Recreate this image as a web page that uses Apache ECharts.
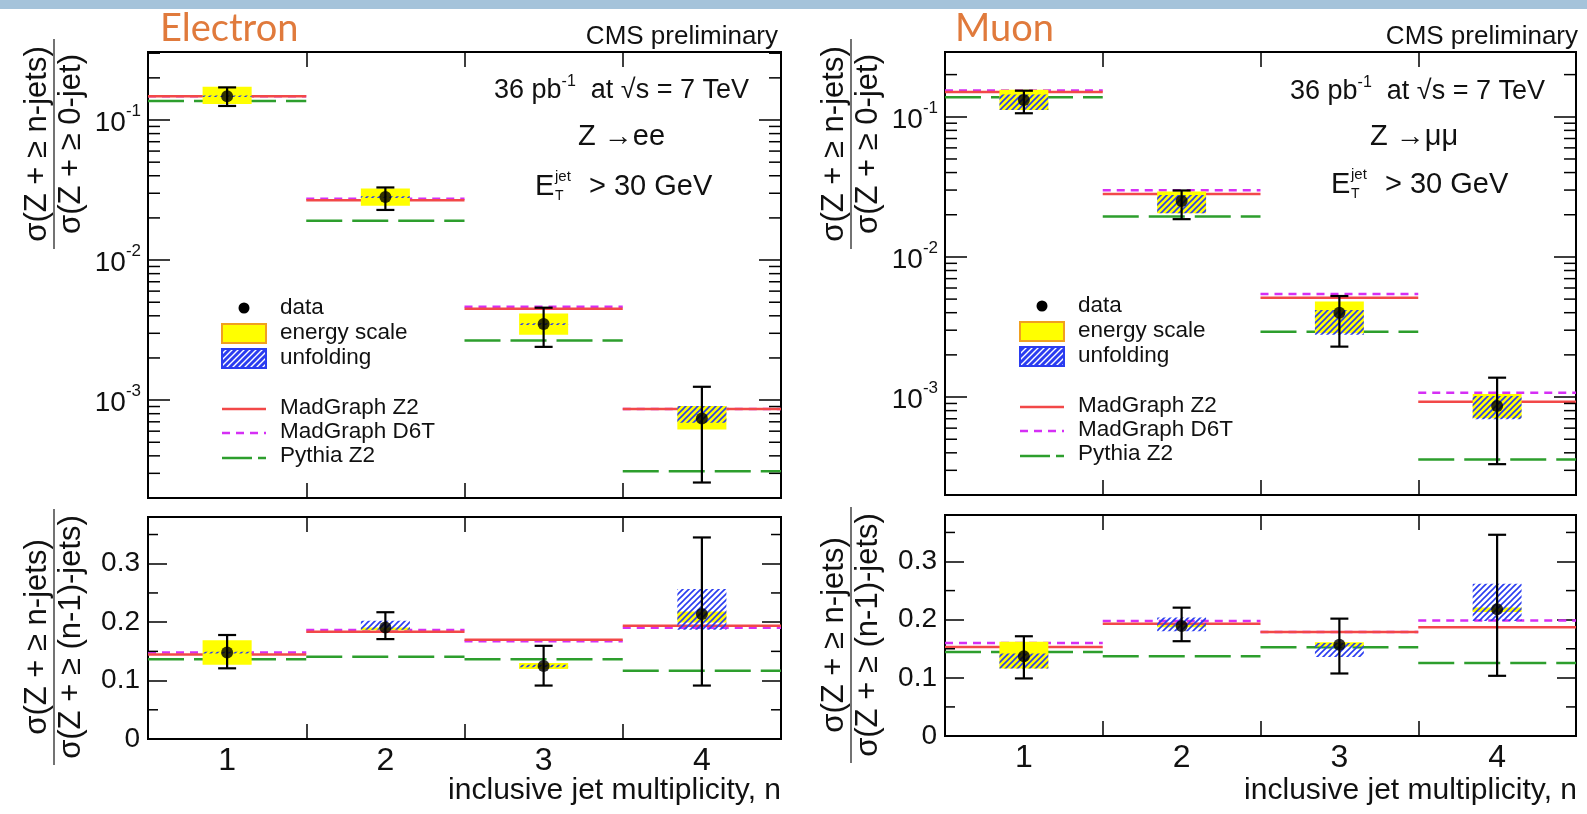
<!DOCTYPE html>
<html>
<head>
<meta charset="utf-8">
<script src="https://cdn.jsdelivr.net/npm/echarts@6/dist/echarts.min.js"></script>
<style>
  html, body { margin: 0; padding: 0; background: #fff; }
  #chart { width: 1587px; height: 814px; }
</style>
</head>
<body>
<div id="chart"></div>
<script>
// bins: inclusive jet multiplicity
const cats = ['1', '2', '3', '4'];

// electron, sigma(>=n) / sigma(>=0)
const elData = [0.148, 0.0282, 0.00349, 7.4e-4];
const elErrLo = [0.126, 0.0228, 0.0024, 2.58e-4];
const elErrHi = [0.171, 0.033, 0.00457, 1.245e-3];
const elEsLo = [0.130, 0.0244, 0.00293, 6.17e-4];
const elEsHi = [0.173, 0.0325, 0.00416, 9.06e-4];
const elUnfLo = [0.1462, 0.0278, 0.00344, 6.9e-4];
const elUnfHi = [0.1498, 0.0286, 0.00354, 9.06e-4];
const elZ2 = [0.148, 0.0267, 0.00449, 8.63e-4];
const elD6T = [0.148, 0.0274, 0.00465, 8.63e-4];
const elPythia = [0.137, 0.0191, 0.00267, 3.11e-4];

// electron, sigma(>=n) / sigma(>=n-1)
const elRatio = [0.148, 0.191, 0.125, 0.214];
const elRatioErrLo = [0.121, 0.171, 0.0915, 0.0915];
const elRatioErrHi = [0.178, 0.217, 0.1595, 0.345];
const elRatioEsLo = [0.127, 0.186, 0.120, 0.1995];
const elRatioEsHi = [0.169, 0.191, 0.130, 0.2184];
const elRatioUnfLo = [0.1465, 0.187, 0.123, 0.187];
const elRatioUnfHi = [0.1495, 0.2024, 0.127, 0.2567];
const elRatioZ2 = [0.1446, 0.1835, 0.170, 0.1938];
const elRatioD6T = [0.148, 0.1864, 0.1675, 0.1904];
const elRatioPythia = [0.1367, 0.141, 0.1367, 0.117];

// muon, sigma(>=n) / sigma(>=0)
const muData = [0.132, 0.0251, 0.0040, 8.63e-4];
const muErrLo = [0.106, 0.0186, 0.00229, 3.32e-4];
const muErrHi = [0.1535, 0.0298, 0.00526, 1.375e-3];
const muEsLo = [0.112, 0.0205, 0.00285, 7.05e-4];
const muEsHi = [0.156, 0.0293, 0.0048, 1.05e-3];
const muUnfLo = [0.112, 0.0205, 0.00278, 6.93e-4];
const muUnfHi = [0.144, 0.0277, 0.00418, 1.016e-3];
const muZ2 = [0.150, 0.0281, 0.00512, 9.25e-4];
const muD6T = [0.154, 0.0299, 0.00544, 1.074e-3];
const muPythia = [0.138, 0.0194, 0.00293, 3.59e-4];

// muon, sigma(>=n) / sigma(>=n-1)
const muRatio = [0.137, 0.189, 0.157, 0.218];
const muRatioErrLo = [0.099, 0.163, 0.1075, 0.1035];
const muRatioErrHi = [0.1715, 0.2207, 0.2018, 0.346];
const muRatioEsLo = [0.116, 0.187, 0.154, 0.213];
const muRatioEsHi = [0.162, 0.191, 0.161, 0.221];
const muRatioUnfLo = [0.116, 0.180, 0.136, 0.1978];
const muRatioUnfHi = [0.142, 0.2036, 0.160, 0.262];
const muRatioZ2 = [0.153, 0.193, 0.179, 0.187];
const muRatioD6T = [0.160, 0.1978, 0.179, 0.1984];
const muRatioPythia = [0.1446, 0.137, 0.1527, 0.1257];

// tick labels of the ratio axes
const ratioTicks = [0, 0.1, 0.2, 0.3];
const ratioMinorTicks = [0.05, 0.15, 0.25, 0.35];

const FONT = '"Liberation Sans", Arial, Helvetica, sans-serif';
const RED = '#f24848', MAG = '#d52ff5', GRN = '#2d9e2d', YEL = '#ffff00', BLUE = '#2a3cf0';

// hatch fill (/// lines)
function hatch(bg, fg, step, lw) {
    const c = document.createElement('canvas');
    c.width = step; c.height = step;
    const g = c.getContext('2d');
    if (bg) { g.fillStyle = bg; g.fillRect(0, 0, step, step); }
    g.strokeStyle = fg; g.lineWidth = lw;
    g.beginPath();
    g.moveTo(0, step); g.lineTo(step, 0);
    g.moveTo(-step, step); g.lineTo(step, -step);
    g.moveTo(0, 2 * step); g.lineTo(2 * step, 0);
    g.stroke();
    return c;
}
const hatchPlot = { image: hatch(null, BLUE, 6, 1.6), repeat: 'repeat' };
const hatchLegend = { image: hatch(BLUE, '#ffffff', 6, 1.4), repeat: 'repeat' };

function bandWidth(api, v) {
    return api.coord([1, v])[0] - api.coord([0, v])[0];
}

// model prediction: horizontal segment over the whole bin
function binLine(color, dash, width) {
    return function (params, api) {
        const v = api.value(1);
        const c = api.coord([api.value(0), v]);
        const bw = bandWidth(api, v);
        return {
            type: 'line',
            shape: { x1: c[0] - bw / 2, y1: c[1], x2: c[0] + bw / 2, y2: c[1] },
            style: { stroke: color, lineWidth: width, lineDash: dash }
        };
    };
}

// uncertainty box
function binBox(fill, half) {
    return function (params, api) {
        const x = api.value(0);
        const lo = api.coord([x, api.value(1)]);
        const hi = api.coord([x, api.value(2)]);
        const bw = bandWidth(api, api.value(1));
        return {
            type: 'rect',
            shape: { x: lo[0] - bw * half, y: hi[1], width: bw * half * 2, height: lo[1] - hi[1] },
            style: { fill: fill }
        };
    };
}

function errorBar(params, api) {
    const x = api.value(0);
    const lo = api.coord([x, api.value(1)]);
    const hi = api.coord([x, api.value(2)]);
    const st = { stroke: '#000', lineWidth: 2.2 };
    return {
        type: 'group',
        children: [
            { type: 'line', shape: { x1: lo[0], y1: lo[1], x2: hi[0], y2: hi[1] }, style: st },
            { type: 'line', shape: { x1: lo[0] - 9, y1: lo[1], x2: lo[0] + 9, y2: lo[1] }, style: st },
            { type: 'line', shape: { x1: hi[0] - 9, y1: hi[1], x2: hi[0] + 9, y2: hi[1] }, style: st }
        ]
    };
}

// minor ticks on both vertical frame edges
function minorTick(len) {
    return function (params, api) {
        const v = api.value(1);
        const c0 = api.coord([0, v]);
        const c3 = api.coord([3, v]);
        const bw = bandWidth(api, v);
        const xl = c0[0] - bw / 2, xr = c3[0] + bw / 2;
        const st = { stroke: '#000', lineWidth: 1.5 };
        return {
            type: 'group',
            children: [
                { type: 'line', shape: { x1: xl, y1: c0[1], x2: xl + len, y2: c0[1] }, style: st },
                { type: 'line', shape: { x1: xr, y1: c0[1], x2: xr - len, y2: c0[1] }, style: st }
            ]
        };
    };
}

const logMinor = [];
[-4, -3, -2, -1].forEach(function (d) {
    for (let m = 2; m <= 9; m++) logMinor.push(m * Math.pow(10, d));
});

const pts = arr => arr.map((v, i) => [i, v]);
const rng = (lo, hi) => lo.map((v, i) => [i, v, hi[i]]);

function panelSeries(g, p, minor, minorLen) {
    const ax = { xAxisIndex: 2 * g, yAxisIndex: 2 * g };
    return [
        Object.assign({ type: 'custom', z: 2, renderItem: binLine(MAG, [8, 6], 2.5), data: pts(p.d6t) }, ax),
        Object.assign({ type: 'custom', z: 2, renderItem: binLine(RED, null, 2.5), data: pts(p.z2) }, ax),
        Object.assign({ type: 'custom', z: 2, renderItem: binLine(GRN, [36, 10], 2.5), data: pts(p.py) }, ax),
        Object.assign({ type: 'custom', z: 3, renderItem: binBox(YEL, 0.155), data: rng(p.esLo, p.esHi) }, ax),
        Object.assign({ type: 'custom', z: 4, renderItem: binBox(hatchPlot, 0.155), data: rng(p.unfLo, p.unfHi) }, ax),
        Object.assign({ type: 'custom', z: 5, renderItem: errorBar, data: rng(p.errLo, p.errHi) }, ax),
        Object.assign({ type: 'scatter', z: 6, symbol: 'circle', symbolSize: 12, itemStyle: { color: '#000' }, data: pts(p.data) }, ax),
        Object.assign({ type: 'custom', z: 7, renderItem: minorTick(minorLen), data: minor.map(v => [0, v]) }, ax)
    ];
}

const grids = [
    { left: 148, top: 52, width: 633, height: 446 },
    { left: 148, top: 517, width: 633, height: 222 },
    { left: 945, top: 52, width: 631, height: 443 },
    { left: 945, top: 515, width: 631, height: 221 }
];

function xAx(g, top, labels) {
    return {
        type: 'category', gridIndex: g, data: cats, position: top ? 'top' : 'bottom', boundaryGap: true,
        axisLine: { show: true, onZero: false, lineStyle: { color: '#000', width: 2 } },
        axisTick: { show: true, inside: true, length: 15, lineStyle: { color: '#000', width: 1.5 } },
        axisLabel: { show: labels, interval: 0, fontSize: 32, color: '#111', margin: 6, fontFamily: FONT },
        splitLine: { show: false }
    };
}

function powLabel(v) {
    const e = Math.log10(v);
    const r = Math.round(e);
    if (Math.abs(e - r) > 1e-6) return '';
    return '{b|10}{s|' + r + '}';
}

function yLog(g, right, min, max) {
    return {
        type: 'log', logBase: 10, gridIndex: g, position: right ? 'right' : 'left', min: min, max: max,
        axisLine: { show: true, onZero: false, lineStyle: { color: '#000', width: 2 } },
        axisTick: { show: true, inside: true, length: 22, lineStyle: { color: '#000', width: 1.5 } },
        axisLabel: {
            show: !right, margin: 7, formatter: powLabel,
            rich: {
                b: { fontSize: 28, fontFamily: FONT, color: '#111', lineHeight: 34, verticalAlign: 'bottom' },
                s: { fontSize: 17, fontFamily: FONT, color: '#111', lineHeight: 17, verticalAlign: 'top' }
            }
        },
        splitLine: { show: false }
    };
}

function yLin(g, right) {
    return {
        type: 'value', gridIndex: g, position: right ? 'right' : 'left', min: 0, max: 0.38, interval: 0.1,
        axisLine: { show: true, onZero: false, lineStyle: { color: '#000', width: 2 } },
        axisTick: { show: true, inside: true, length: 19, lineStyle: { color: '#000', width: 1.5 } },
        axisLabel: {
            show: !right, margin: 8, fontSize: 28, color: '#111', fontFamily: FONT,
            formatter: v => ratioTicks.some(t => Math.abs(t - v) < 1e-9) ? String(+v.toFixed(1)) : ''
        },
        splitLine: { show: false }
    };
}

// ---- texts ----
function txt(x, y, text, size, extra) {
    return Object.assign({
        type: 'text', x: x, y: y, silent: true,
        style: { text: text, font: size + 'px ' + FONT, fill: '#111', textAlign: 'left', textVerticalAlign: 'middle', verticalAlign: 'middle' }
    }, extra || {});
}
function styled(el, st) { Object.assign(el.style, st); return el; }

function lumiText(x, y) {
    return {
        type: 'text', x: x, y: y, silent: true,
        style: {
            text: '{m|36 pb}{s|-1}{m|  at √s = 7 TeV}', textAlign: 'left', textVerticalAlign: 'middle', verticalAlign: 'middle',
            rich: {
                m: { fontSize: 27, fontFamily: FONT, fill: '#111', lineHeight: 31, verticalAlign: 'bottom' },
                s: { fontSize: 16, fontFamily: FONT, fill: '#111', lineHeight: 16, verticalAlign: 'top' }
            }
        }
    };
}

function etText(x, y) {
    return [
        txt(x, y, 'E', 29),
        txt(x + 20, y + 9, 'T', 14),
        txt(x + 20, y - 10, 'jet', 15),
        txt(x + 54, y, '> 30 GeV', 29)
    ];
}

function legend(x, y) {
    const el = [
        { type: 'circle', shape: { cx: x + 22, cy: y, r: 5.5 }, style: { fill: '#000' } },
        { type: 'rect', shape: { x: x, y: y + 16, width: 44, height: 19 }, style: { fill: YEL, stroke: '#f0a020', lineWidth: 2 } },
        { type: 'rect', shape: { x: x, y: y + 41, width: 44, height: 19 }, style: { fill: hatchLegend, stroke: BLUE, lineWidth: 2 } },
        { type: 'line', shape: { x1: x, y1: y + 101, x2: x + 44, y2: y + 101 }, style: { stroke: RED, lineWidth: 2.5 } },
        { type: 'line', shape: { x1: x, y1: y + 125, x2: x + 44, y2: y + 125 }, style: { stroke: MAG, lineWidth: 2.5, lineDash: [8, 6] } },
        { type: 'line', shape: { x1: x, y1: y + 150, x2: x + 44, y2: y + 150 }, style: { stroke: GRN, lineWidth: 2.5, lineDash: [30, 6] } }
    ];
    const labels = ['data', 'energy scale', 'unfolding', 'MadGraph Z2', 'MadGraph D6T', 'Pythia Z2'];
    const dy = [0, 25, 50, 100, 124, 148];
    labels.forEach((t, i) => el.push(txt(x + 58, y + dy[i], t, 22.5)));
    return el;
}

function yTitle(barX, cy, len, num, den) {
    return [
        txt(barX - 17, cy, num, 31, { rotation: Math.PI / 2 }),
        txt(barX + 17, cy, den, 31, { rotation: Math.PI / 2 }),
        { type: 'line', silent: true, shape: { x1: barX, y1: cy - len / 2, x2: barX, y2: cy + len / 2 }, style: { stroke: '#444', lineWidth: 1.5 } }
    ].map(e => { if (e.type === 'text') { e.style.textAlign = 'center'; } return e; });
}

const titleFont = '38px Lato, "Open Sans", sans-serif';
const graphic = [
    { type: 'rect', shape: { x: 0, y: 0, width: 1587, height: 9 }, style: { fill: '#a5c3da' }, silent: true },
    txt(160, 29, 'Electron', 38, { style: { text: 'Electron', font: titleFont, fill: '#e07a3c', textVerticalAlign: 'middle', verticalAlign: 'middle' } }),
    txt(955, 29, 'Muon', 38, { style: { text: 'Muon', font: titleFont, fill: '#e07a3c', textVerticalAlign: 'middle', verticalAlign: 'middle' } }),
    styled(txt(778, 37, 'CMS preliminary', 26), { textAlign: 'right' }),
    styled(txt(1578, 37, 'CMS preliminary', 26), { textAlign: 'right' }),
    lumiText(494, 89),
    lumiText(1290, 90),
    txt(578, 137, 'Z →ee', 29),
    txt(1370, 137, 'Z →μμ', 29),
    ...etText(535, 187),
    ...etText(1331, 185),
    ...legend(222, 308),
    ...legend(1020, 306),
    styled(txt(781, 791, 'inclusive jet multiplicity, n', 30), { textAlign: 'right' }),
    styled(txt(1577, 791, 'inclusive jet multiplicity, n', 30), { textAlign: 'right' }),
    ...yTitle(54, 144, 210, 'σ(Z + ≥ n-jets)', 'σ(Z + ≥ 0-jet)'),
    ...yTitle(54, 637, 256, 'σ(Z + ≥ n-jets)', 'σ(Z + ≥ (n-1)-jets)'),
    ...yTitle(851, 144, 210, 'σ(Z + ≥ n-jets)', 'σ(Z + ≥ 0-jet)'),
    ...yTitle(851, 635, 256, 'σ(Z + ≥ n-jets)', 'σ(Z + ≥ (n-1)-jets)')
];

const panels = [
    { data: elData, errLo: elErrLo, errHi: elErrHi, esLo: elEsLo, esHi: elEsHi, unfLo: elUnfLo, unfHi: elUnfHi, z2: elZ2, d6t: elD6T, py: elPythia },
    { data: elRatio, errLo: elRatioErrLo, errHi: elRatioErrHi, esLo: elRatioEsLo, esHi: elRatioEsHi, unfLo: elRatioUnfLo, unfHi: elRatioUnfHi, z2: elRatioZ2, d6t: elRatioD6T, py: elRatioPythia },
    { data: muData, errLo: muErrLo, errHi: muErrHi, esLo: muEsLo, esHi: muEsHi, unfLo: muUnfLo, unfHi: muUnfHi, z2: muZ2, d6t: muD6T, py: muPythia },
    { data: muRatio, errLo: muRatioErrLo, errHi: muRatioErrHi, esLo: muRatioEsLo, esHi: muRatioEsHi, unfLo: muRatioUnfLo, unfHi: muRatioUnfHi, z2: muRatioZ2, d6t: muRatioD6T, py: muRatioPythia }
];

const leftLog = [2e-4, 0.306], rightLog = [2e-4, 0.29];
const leftMinor = logMinor.filter(v => v > leftLog[0] * 1.01 && v < leftLog[1]);
const rightMinor = logMinor.filter(v => v > rightLog[0] * 1.01 && v < rightLog[1]);
const linMinor = ratioMinorTicks.filter(v => v < 0.38);

let myChart = echarts.init(document.getElementById('chart'), null, { renderer: 'canvas' });
let option = {
    animation: false,
    backgroundColor: '#fff',
    textStyle: { fontFamily: FONT },
    grid: grids.map(g => Object.assign({ show: true, borderColor: '#000', borderWidth: 2, backgroundColor: 'transparent' }, g)),
    xAxis: [xAx(0, false, false), xAx(0, true, false), xAx(1, false, true), xAx(1, true, false),
            xAx(2, false, false), xAx(2, true, false), xAx(3, false, true), xAx(3, true, false)],
    yAxis: [yLog(0, false, leftLog[0], leftLog[1]), yLog(0, true, leftLog[0], leftLog[1]), yLin(1, false), yLin(1, true),
            yLog(2, false, rightLog[0], rightLog[1]), yLog(2, true, rightLog[0], rightLog[1]), yLin(3, false), yLin(3, true)],
    series: [].concat(
        panelSeries(0, panels[0], leftMinor, 12),
        panelSeries(1, panels[1], linMinor, 10),
        panelSeries(2, panels[2], rightMinor, 12),
        panelSeries(3, panels[3], linMinor, 10)
    ),
    graphic: graphic
};
myChart.setOption(option);
window.addEventListener('resize', function () {
    myChart.resize();
});
</script>
</body>
</html>
